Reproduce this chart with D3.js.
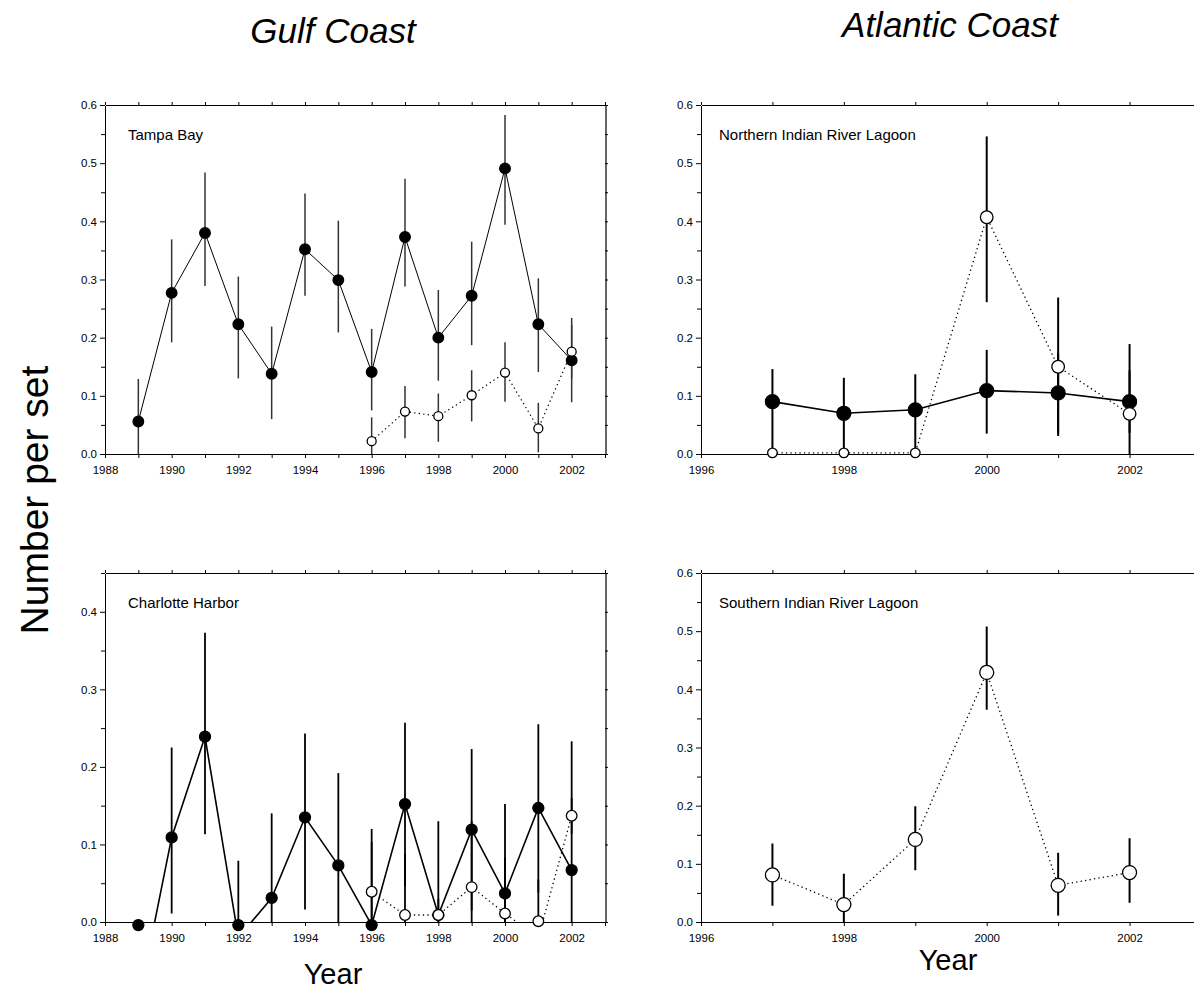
<!doctype html>
<html>
<head>
<script src="https://d3js.org/d3.v7.min.js"></script>
<style>
  body { margin: 0; background: #fff; }
  svg text { font-family: "Liberation Sans", Arial, sans-serif; fill: #000; }
  .tick text { font-size: 11.5px; }
</style>
</head>
<body>
<script>
// ---- data ----
var gulfYears = [1989, 1990, 1991, 1992, 1993, 1994, 1995, 1996, 1997, 1998, 1999, 2000, 2001, 2002];
var lateYears = [1996, 1997, 1998, 1999, 2000, 2001, 2002];
var atlYears  = [1997, 1998, 1999, 2000, 2001, 2002];

// Tampa Bay
var tampaFilled   = [0.056, 0.277, 0.380, 0.223, 0.138, 0.352, 0.299, 0.141, 0.373, 0.200, 0.272, 0.491, 0.223, 0.161];
var tampaFilledLo = [0.000, 0.192, 0.289, 0.130, 0.060, 0.272, 0.209, 0.075, 0.288, 0.126, 0.187, 0.394, 0.141, 0.089];
var tampaFilledHi = [0.129, 0.369, 0.484, 0.305, 0.219, 0.448, 0.401, 0.215, 0.473, 0.282, 0.365, 0.583, 0.302, 0.234];
var tampaOpen     = [0.022, 0.073, 0.065, 0.101, 0.140, 0.044, 0.176];
var tampaOpenLo   = [0.000, 0.027, 0.021, 0.056, 0.090, 0.003, 0.130];
var tampaOpenHi   = [0.063, 0.117, 0.104, 0.144, 0.192, 0.088, 0.222];

// Charlotte Harbor (some means fall below zero; the line is clipped at the axis)
var charFilled   = [-0.105, 0.109, 0.239, -0.020, 0.031, 0.135, 0.073, -0.004, 0.152, 0.009, 0.119, 0.037, 0.147, 0.067];
var charFilledLo = [0.000, 0.011, 0.113, 0.000, 0.000, 0.016, 0.000, 0.000, 0.046, 0.000, 0.015, 0.000, 0.038, 0.000];
var charFilledHi = [0.000, 0.225, 0.373, 0.079, 0.140, 0.243, 0.192, 0.120, 0.257, 0.130, 0.223, 0.152, 0.255, 0.233];
var charOpen     = [0.039, 0.009, 0.009, 0.045, 0.011, -0.020, 0.137];
var charOpenLo   = [0.000, 0.000, 0.000, 0.000, 0.000, 0.000, 0.114];
var charOpenHi   = [0.103, 0.088, 0.030, 0.130, 0.083, 0.055, 0.160];

// Northern Indian River Lagoon
var nirlFilled   = [0.090, 0.070, 0.076, 0.109, 0.105, 0.090];
var nirlFilledLo = [0.000, 0.000, 0.000, 0.035, 0.035, 0.036];
var nirlFilledHi = [0.146, 0.131, 0.137, 0.179, 0.173, 0.144];
var nirlOpen     = [0.002, 0.002, 0.002, 0.407, 0.150, 0.069];
var nirlOpenLo   = [0.002, 0.002, 0.002, 0.261, 0.031, 0.000];
var nirlOpenHi   = [0.002, 0.002, 0.002, 0.546, 0.269, 0.189];

// Southern Indian River Lagoon
var sirlOpen     = [0.081, 0.030, 0.142, 0.429, 0.063, 0.085];
var sirlOpenLo   = [0.028, 0.000, 0.089, 0.365, 0.011, 0.033];
var sirlOpenHi   = [0.135, 0.083, 0.199, 0.508, 0.119, 0.144];

var width = 1194, height = 997;

var svg = d3.select("body").append("svg")
    .attr("width", width)
    .attr("height", height);

function rows(years, mean, lo, hi) {
    return years.map(function (y, i) {
        return { year: y, v: mean[i], lo: lo[i], hi: hi[i] };
    });
}

var panels = [
  { id: "p1", left: 105, right: 605, top: 105, bottom: 454, xDom: [1988, 2003], yMax: 0.6, label: "Tampa Bay",
    barColor: "#333", series: [
      { data: rows(gulfYears, tampaFilled, tampaFilledLo, tampaFilledHi), filled: true, r: 5.3, lw: 1, bw: 1.5 },
      { data: rows(lateYears, tampaOpen, tampaOpenLo, tampaOpenHi), filled: false, r: 4.5, lw: 1.2, bw: 1.5 }
  ]},
  { id: "p2", left: 701, right: 1201, top: 105, bottom: 454, xDom: [1996, 2003], yMax: 0.6, label: "Northern Indian River Lagoon",
    barColor: "#000", series: [
      { data: rows(atlYears, nirlFilled, nirlFilledLo, nirlFilledHi), filled: true, r: 7, lw: 1.6, bw: 2 },
      { data: rows(atlYears, nirlOpen, nirlOpenLo, nirlOpenHi), filled: false, r: 6.3, lw: 1.3, bw: 2 }
  ]},
  { id: "p3", left: 105, right: 605, top: 573, bottom: 922, xDom: [1988, 2003], yMax: 0.45, label: "Charlotte Harbor",
    barColor: "#000", series: [
      { data: rows(gulfYears, charFilled, charFilledLo, charFilledHi), filled: true, r: 5.5, lw: 1.6, bw: 1.8 },
      { data: rows(lateYears, charOpen, charOpenLo, charOpenHi), filled: false, r: 5.3, lw: 1.3, bw: 1.8 }
  ]},
  { id: "p4", left: 701, right: 1201, top: 573, bottom: 922, xDom: [1996, 2003], yMax: 0.6, label: "Southern Indian River Lagoon",
    barColor: "#000", series: [
      { data: rows(atlYears, sirlOpen, sirlOpenLo, sirlOpenHi), filled: false, r: 7, lw: 1.3, bw: 2 }
  ]}
];

panels.forEach(function (p) {
    var x = d3.scaleLinear().domain(p.xDom).range([p.left, p.right]);
    var y = d3.scaleLinear().domain([0, p.yMax]).range([p.bottom, p.top]);

    var g = svg.append("g");

    g.append("clipPath").attr("id", "clip-" + p.id)
      .append("rect")
      .attr("x", p.left).attr("y", p.top)
      .attr("width", p.right - p.left).attr("height", p.bottom - p.top);

    var yearTicks = d3.range(p.xDom[0], p.xDom[1] + 1);
    var yTicks = d3.range(0, Math.round(p.yMax / 0.05) + 1).map(function (i) { return +(i * 0.05).toFixed(2); });
    var isMajorY = function (d) { return Math.round(d * 100) % 10 === 0; };

    // bottom axis
    var xb = g.append("g").attr("transform", "translate(0," + p.bottom + ")")
      .call(d3.axisBottom(x).tickValues(yearTicks).tickSizeInner(4).tickSizeOuter(0)
        .tickFormat(function (d) { return d % 2 === 0 ? d : ""; }));
    xb.selectAll(".tick text").attr("dy", "1.15em");

    // left axis
    var yl = g.append("g").attr("transform", "translate(" + p.left + ",0)")
      .call(d3.axisLeft(y).tickValues(yTicks).tickSizeInner(5).tickSizeOuter(0)
        .tickFormat(function (d) { return isMajorY(d) ? d3.format(".1f")(d) : ""; }));
    yl.selectAll(".tick line").attr("x2", function (d) { return isMajorY(d) ? -5 : -4; });
    yl.selectAll(".tick text").attr("x", -8);

    // top and right frame with small mirrored ticks
    g.append("g").attr("transform", "translate(0," + p.top + ")")
      .call(d3.axisTop(x).tickValues(yearTicks).tickSize(3).tickSizeOuter(0).tickFormat(""));
    var yr = g.append("g").attr("transform", "translate(" + p.right + ",0)")
      .call(d3.axisRight(y).tickValues(yTicks).tickSize(3).tickSizeOuter(0).tickFormat(""));
    yr.select(".domain").attr("stroke", "#666").attr("stroke-width", 2);

    g.selectAll(".domain").attr("shape-rendering", "crispEdges");

    // panel label
    g.append("text")
      .attr("x", x(p.xDom[0]) + (p.xDom[0] === 1988 ? 23 : 18))
      .attr("y", p.top + 35)
      .style("font-size", "15px")
      .text(p.label);

    var plot = g.append("g").attr("clip-path", "url(#clip-" + p.id + ")");

    // error bars
    p.series.forEach(function (s) {
        plot.selectAll(null)
          .data(s.data.filter(function (d) { return d.hi > d.lo; }))
          .enter().append("line")
          .attr("x1", function (d) { return x(d.year); })
          .attr("x2", function (d) { return x(d.year); })
          .attr("y1", function (d) { return y(d.lo); })
          .attr("y2", function (d) { return y(d.hi); })
          .attr("stroke", p.barColor)
          .attr("stroke-width", s.bw);
    });

    // connecting lines
    p.series.forEach(function (s) {
        var line = d3.line()
          .x(function (d) { return x(d.year); })
          .y(function (d) { return y(d.v); });
        plot.append("path")
          .datum(s.data)
          .attr("d", line)
          .attr("fill", "none")
          .attr("stroke", "#000")
          .attr("stroke-width", s.lw)
          .attr("stroke-dasharray", s.filled ? null : "1.3,3.2");
    });

    // symbols (values below zero are pinned at the axis)
    p.series.forEach(function (s) {
        var pin = s.filled ? -0.004 : 0.001;
        g.selectAll(null)
          .data(s.data)
          .enter().append("circle")
          .attr("cx", function (d) { return x(d.year); })
          .attr("cy", function (d) { return y(Math.max(d.v, pin)); })
          .attr("r", function (d) { return d.v < 0.01 && p.id === "p2" ? s.r - 1.5 : s.r; })
          .attr("fill", s.filled ? "#000" : "#fff")
          .attr("stroke", "#000")
          .attr("stroke-width", 1.3);
    });
});

// headings and axis titles
svg.append("text").attr("x", 333).attr("y", 43).attr("text-anchor", "middle")
  .style("font-size", "35px").style("font-style", "italic").text("Gulf Coast");
svg.append("text").attr("x", 950).attr("y", 37).attr("text-anchor", "middle")
  .style("font-size", "35px").style("font-style", "italic").text("Atlantic Coast");

svg.append("text")
  .attr("transform", "translate(48,500) rotate(-90)")
  .attr("text-anchor", "middle")
  .style("font-size", "39px")
  .text("Number per set");

svg.append("text").attr("x", 333).attr("y", 984).attr("text-anchor", "middle")
  .style("font-size", "29px").text("Year");
svg.append("text").attr("x", 948).attr("y", 970).attr("text-anchor", "middle")
  .style("font-size", "29px").text("Year");
</script>
</body>
</html>
